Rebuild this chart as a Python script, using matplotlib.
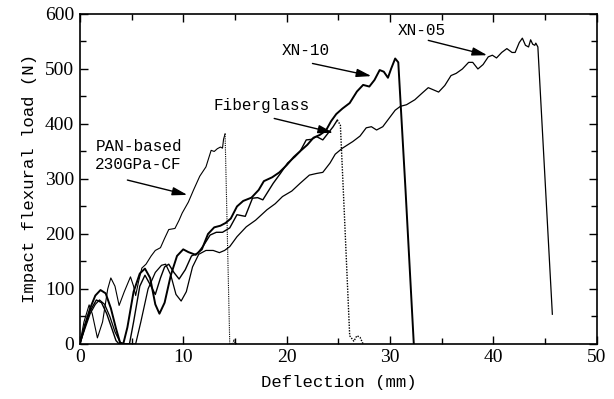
import numpy as np
import matplotlib
matplotlib.use("Agg")
import matplotlib.pyplot as plt

# load-deflection curves
pan_x = [0, 0.4, 0.9, 1.2, 1.7, 2.2, 2.7, 3.0, 3.4, 3.8, 4.3, 4.9, 5.2, 5.4, 5.7, 6.0, 6.4, 6.9,
         7.3, 7.8, 8.2, 8.6, 9.2, 9.6, 9.9, 10.5, 11.0, 11.6, 12.2, 12.7, 13.0, 13.3, 13.6, 13.8,
         13.9, 14.05, 14.5, 14.8, 14.9, 15.0, 15.2]
pan_y = [0, 40, 71, 55, 11, 40, 100, 120, 105, 70, 95, 122, 105, 88, 115, 138, 145, 160,
         170, 175, 192, 208, 210, 225, 238, 258, 280, 305, 322, 352, 350, 355, 358, 356,
         372, 382, 0, 0, 8, 2, 0]

fg_x = [0, 0.5, 1.0, 1.6, 2.1, 2.6, 3.1, 3.5, 3.8, 4.8, 5.2, 5.8, 6.3, 6.8, 7.3, 7.8, 8.2, 8.6,
        9.1, 9.6, 10.2, 10.8, 11.4, 12.0, 12.6, 13.2, 13.8, 14.5, 15.2, 16.0, 16.7, 17.2, 17.7,
        18.7, 19.4, 20.1, 20.8, 21.3, 21.9, 22.4, 22.9, 23.5, 24.0, 24.5, 24.9, 25.2, 25.6,
        26.1, 26.5, 26.8, 27.1, 27.4]
fg_y = [0, 32, 60, 80, 75, 55, 28, 6, 0, 0, 40, 105, 125, 108, 90, 120, 140, 145,
        130, 118, 135, 160, 165, 180, 198, 203, 203, 211, 235, 232, 265, 266, 262,
        292, 310, 329, 340, 350, 371, 372, 377, 371, 383, 395, 407, 398, 230,
        15, 5, 15, 12, 0]

xn10_x = [0, 0.5, 1.0, 1.5, 2.0, 2.5, 3.0, 3.5, 3.9, 4.2, 4.6, 5.2, 5.8, 6.3, 6.8, 7.3, 7.7,
          8.2, 8.8, 9.4, 10.0, 10.5, 11.2, 11.8, 12.4, 13.0, 13.6, 14.1, 14.6, 15.2, 15.8,
          16.6, 17.3, 17.8, 18.6, 19.3, 20.0, 20.7, 21.4, 22.0, 22.6, 23.2, 23.8, 24.3, 24.8,
          25.4, 26.1, 26.8, 27.4, 28.0, 28.5, 29.0, 29.4, 29.8, 30.1, 30.5, 30.8, 31.5, 32.3]
xn10_y = [0, 35, 65, 88, 98, 92, 65, 28, 2, 0, 30, 95, 128, 137, 120, 72, 55,
          75, 125, 160, 172, 167, 162, 172, 200, 212, 215, 220, 228, 250, 260,
          266, 280, 296, 303, 312, 325, 340, 352, 362, 375, 380, 388, 405, 418,
          428, 438, 459, 471, 468, 480, 498, 495, 484, 500, 519, 512, 280, 0]

xn05_x = [0, 0.5, 1.0, 1.5, 1.9, 2.4, 2.9, 3.4, 3.9, 4.3, 5.4, 5.9, 6.6, 7.3, 7.9, 8.3, 8.8,
          9.3, 9.8, 10.3, 10.9, 11.5, 12.2, 12.9, 13.5, 14.0, 14.5, 15.2, 16.1, 17.0, 18.1,
          18.9, 19.6, 20.5, 21.3, 22.2, 22.9, 23.5, 24.2, 24.7, 25.4, 26.4, 27.1, 27.7, 28.2,
          28.7, 29.3, 29.9, 30.5, 31.0, 31.6, 32.4, 33.1, 33.7, 34.2, 34.7, 35.3, 35.9, 36.4,
          37.0, 37.6, 38.0, 38.5, 39.0, 39.5, 39.9, 40.3, 40.8, 41.3, 41.8, 42.1, 42.5, 42.8,
          43.1, 43.4, 43.6, 43.8, 44.0, 44.1, 44.3, 45.7]
xn05_y = [0, 28, 55, 72, 80, 72, 50, 22, 3, 0, 0, 40, 100, 130, 143, 145, 125,
          90, 78, 95, 140, 163, 170, 170, 166, 170, 177, 195, 213, 225, 244,
          255, 268, 278, 292, 307, 310, 312, 329, 345, 356, 368, 378, 393, 395,
          389, 395, 410, 425, 432, 435, 444, 456, 466, 462, 458, 470, 488, 492,
          500, 512, 512, 500, 508, 522, 525, 520, 530, 537, 530, 530, 548, 556,
          543, 540, 553, 545, 543, 547, 540, 54]

fig = plt.figure(figsize=(6.14, 3.99), dpi=100)
ax = fig.add_axes([0.130, 0.138, 0.842, 0.827])

def draw(x, y, lw, dotted_drop=False):
    x = np.array(x)
    y = np.array(y)
    k = int(np.argmax(y))
    if dotted_drop:
        ax.plot(x[:k + 1], y[:k + 1], color='k', lw=lw)
        ax.plot(x[k:], y[k:], color='k', lw=lw, ls=(0, (1, 1)))
    else:
        ax.plot(x, y, color='k', lw=lw)

draw(pan_x, pan_y, 0.8, dotted_drop=True)
draw(fg_x, fg_y, 1.0, dotted_drop=True)
draw(xn10_x, xn10_y, 1.4)
draw(xn05_x, xn05_y, 0.9)

ax.set_xlim(0, 50)
ax.set_ylim(0, 600)
ax.set_xticks(np.arange(0, 51, 10))
ax.set_xticks(np.arange(0, 51, 5), minor=True)
ax.set_yticks(np.arange(0, 601, 100))
ax.set_yticks(np.arange(0, 601, 50), minor=True)
ax.tick_params(which='both', direction='in', top=True, right=True, width=1.0)
ax.tick_params(which='major', length=6, pad=4)
ax.tick_params(which='minor', length=4)
for s in ax.spines.values():
    s.set_linewidth(1.2)

tickfont = {'family': 'Liberation Serif', 'size': 14}
for lab in ax.get_xticklabels() + ax.get_yticklabels():
    lab.set_fontfamily('Liberation Serif')
    lab.set_fontsize(14)

labfont = {'family': 'Liberation Mono', 'size': 12.5}
ax.set_xlabel('Deflection (mm)', fontdict=labfont, labelpad=6)
ax.set_ylabel('Impact flexural load (N)', fontdict=labfont, labelpad=6)

annfont = {'family': 'Liberation Mono', 'size': 11.5}
ax.text(1.5, 359, 'PAN-based', fontdict=annfont, va='center', ha='left')
ax.text(1.5, 326, '230GPa-CF', fontdict=annfont, va='center', ha='left')
ax.text(17.6, 434, 'Fiberglass', fontdict=annfont, va='center', ha='center')
ax.text(21.9, 534, 'XN-10', fontdict=annfont, va='center', ha='center')
ax.text(33.1, 570, 'XN-05', fontdict=annfont, va='center', ha='center')

arrows = [((4.6, 298), (10.4, 271)),
          ((18.8, 410), (24.5, 384)),
          ((22.5, 510), (28.2, 487)),
          ((33.7, 552), (39.4, 525))]
for tail, head in arrows:
    ax.annotate('', xy=head, xytext=tail,
                arrowprops=dict(arrowstyle='-|>,head_length=0.9,head_width=0.25',
                                color='k', lw=1.0, shrinkA=0, shrinkB=0))

fig.savefig('out.png', dpi=100)
